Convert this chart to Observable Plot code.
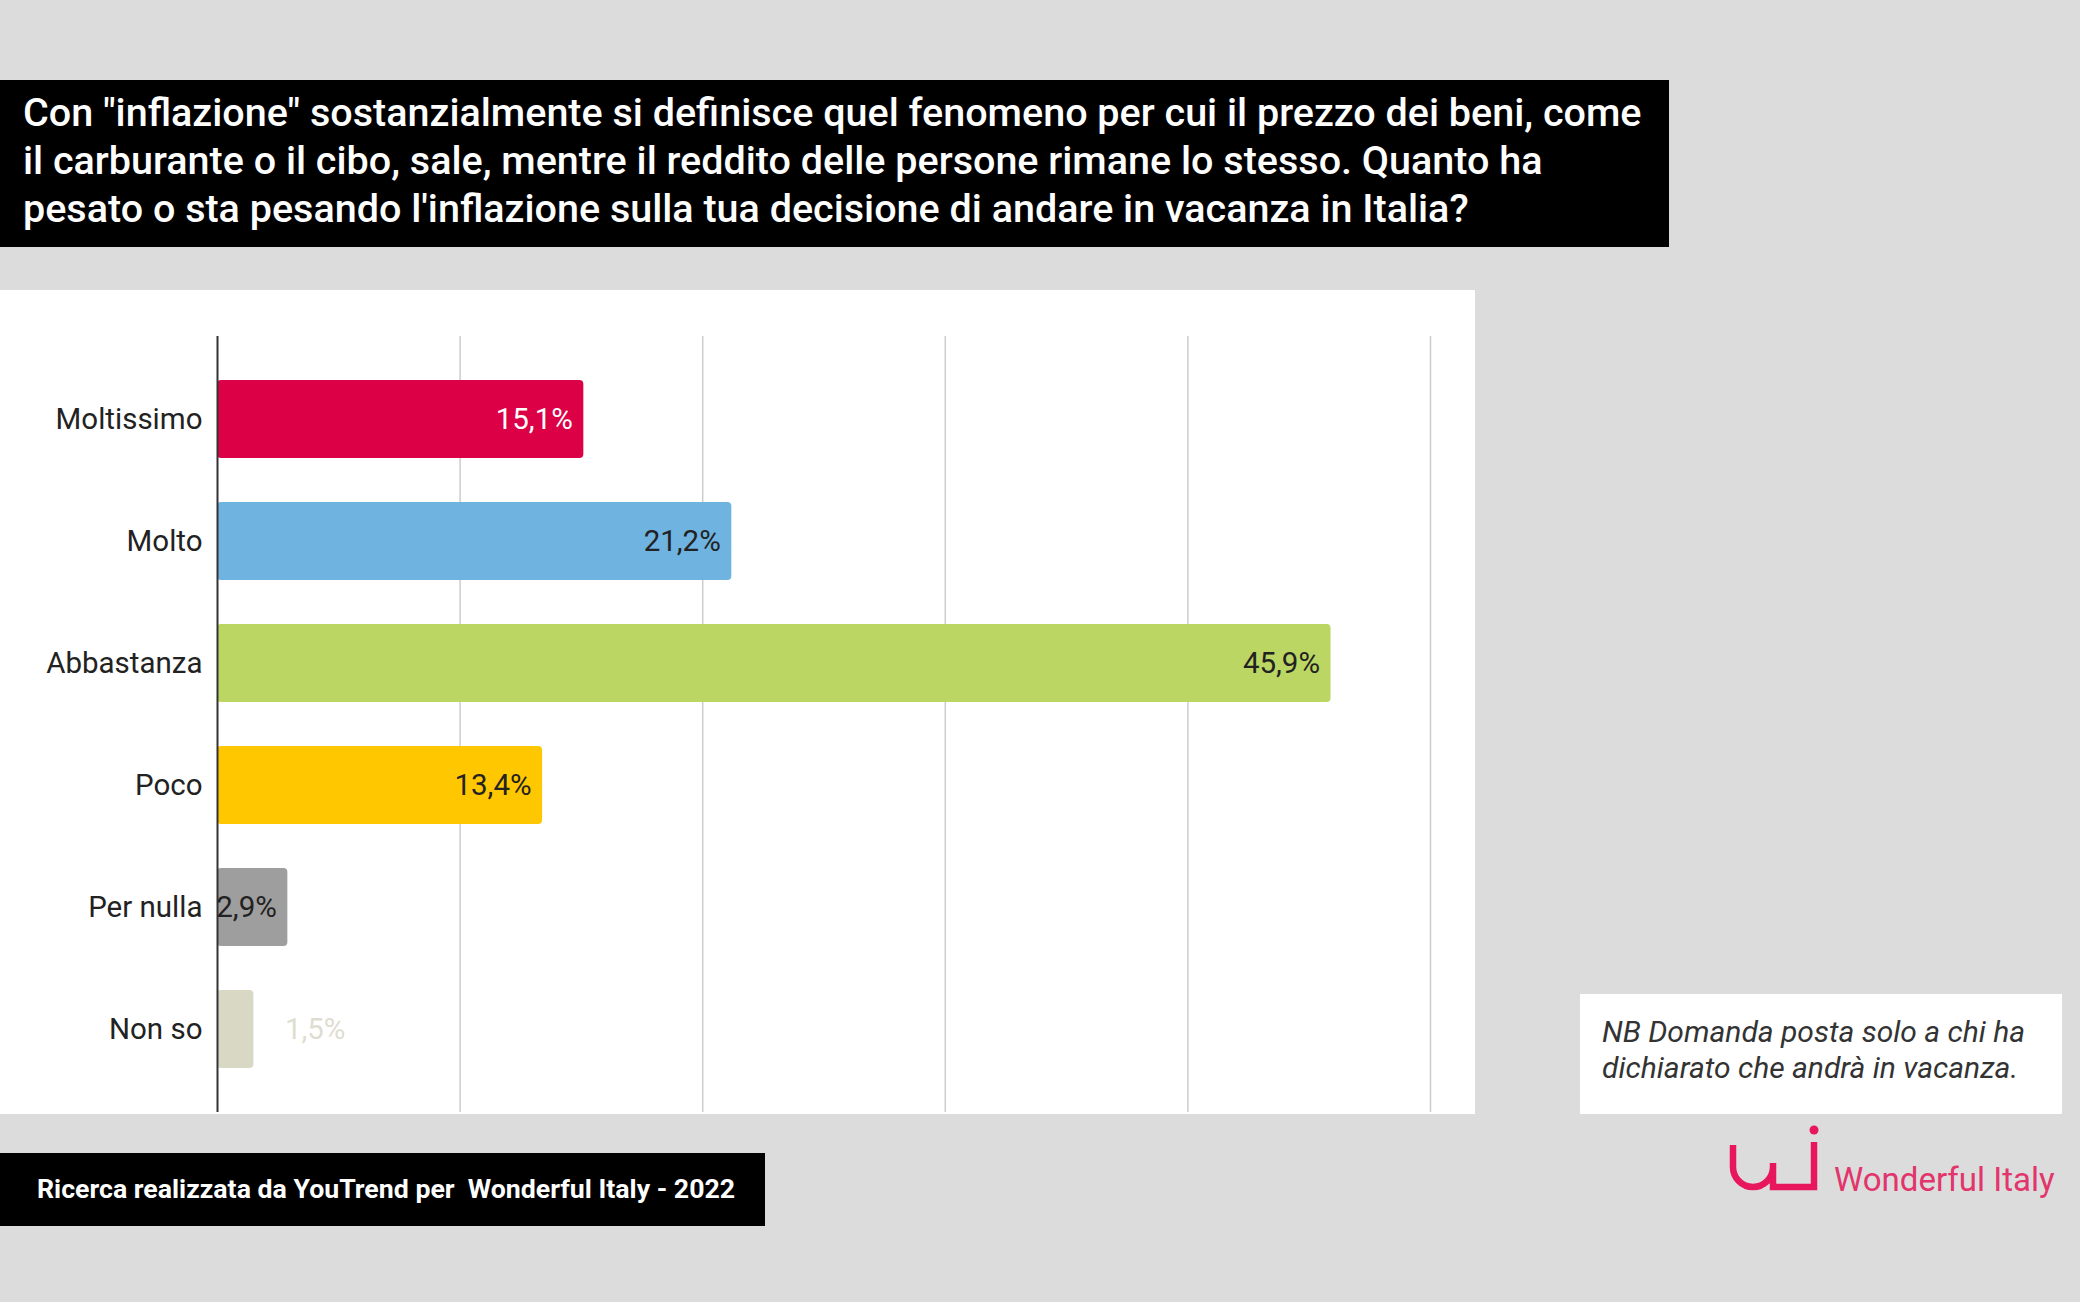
<!DOCTYPE html>
<html>
<head>
<meta charset="utf-8">
<script src="https://cdn.jsdelivr.net/npm/d3@7"></script>
<script src="https://cdn.jsdelivr.net/npm/@observablehq/plot@0.6"></script>
<style>
  html, body { margin: 0; padding: 0; }
  body { width: 2080px; height: 1302px; background: #dcdcdc; position: relative; overflow: hidden; font-family: Roboto, "Noto Sans", sans-serif; }
  #title { position: absolute; left: 0; top: 80px; width: 1669px; height: 167px; background: #000; color: #fff; box-sizing: border-box; padding: 9px 0 0 23px; font-size: 39.5px; line-height: 48px; font-weight: 500; white-space: nowrap; }
  #panel { position: absolute; left: 0; top: 290px; width: 1475px; height: 824px; background: #fff; }
  #caption { position: absolute; left: 0; top: 1153px; width: 765px; height: 73px; background: #000; color: #fff; font-weight: bold; font-size: 26.7px; line-height: 73px; box-sizing: border-box; padding-left: 37px; white-space: pre; }
  #note { position: absolute; left: 1580px; top: 994px; width: 482px; height: 120px; background: #fff; color: #333; font-style: italic; font-size: 30px; line-height: 36px; box-sizing: border-box; padding: 20px 0 0 22px; white-space: nowrap; }
  #logo { position: absolute; left: 1722px; top: 1120px; }
  #brand { position: absolute; left: 1834px; top: 1160px; color: #e2356c; font-size: 33px; white-space: nowrap; }
</style>
</head>
<body>
<div id="title">Con "inflazione" sostanzialmente si definisce quel fenomeno per cui il prezzo dei beni, come<br>il carburante o il cibo, sale, mentre il reddito delle persone rimane lo stesso. Quanto ha<br>pesato o sta pesando l'inflazione sulla tua decisione di andare in vacanza in Italia?</div>
<div id="panel"></div>
<div id="caption">Ricerca realizzata da YouTrend per  Wonderful Italy - 2022</div>
<div id="note">NB Domanda posta solo a chi ha<br>dichiarato che andrà in vacanza.</div>
<svg id="logo" width="110" height="80" viewBox="0 0 110 80">
  <path d="M11 25 V47 A20 20 0 0 0 51 47 V43 M51 43 V67 H92 V22" fill="none" stroke="#e8175d" stroke-width="6.5" stroke-linecap="butt" stroke-linejoin="miter"/>
  <circle cx="92" cy="10" r="4.5" fill="#e8175d"/>
</svg>
<div id="brand">Wonderful Italy</div>
<script>
const categories = ["Moltissimo", "Molto", "Abbastanza", "Poco", "Per nulla", "Non so"];
const values = [15.1, 21.2, 45.9, 13.4, 2.9, 1.5];
const valueLabels = ["15,1%", "21,2%", "45,9%", "13,4%", "2,9%", "1,5%"];
const barColors = ["#dc0047", "#6fb3e1", "#bcd664", "#ffc700", "#9e9e9e", "#d9d8c4"];
const labelColors = ["#ffffff", "#222222", "#222222", "#222222", "#222222", "#dfddd2"];
const xTicks = [0, 10, 20, 30, 40, 50];

const data = categories.map((c, i) => ({
  category: c, value: values[i], label: valueLabels[i], color: barColors[i], labelColor: labelColors[i]
}));
const inside = data.filter(d => d.value >= 2);
const outside = data.filter(d => d.value < 2);

const chart = Plot.plot({
  width: 1475,
  height: 824,
  marginTop: 46,
  marginBottom: 2,
  marginLeft: 217,
  marginRight: 45,
  style: { fontFamily: "Roboto, sans-serif", fontSize: "29.5px", background: "white", color: "#222" },
  x: { domain: [0, 50], axis: null },
  y: { domain: categories, paddingInner: 0.36, paddingOuter: 0.347, label: null },
  marks: [
    Plot.ruleX(xTicks.slice(1), { stroke: "#cccccc", strokeWidth: 1.5 }),
    Plot.barX(data, { x: "value", y: "category", fill: d => d.color, rx: 4 }),
    Plot.ruleX([0], { stroke: "#333", strokeWidth: 2 }),
    Plot.axisY({ tickSize: 0, tickPadding: 15, fontSize: 29.5, fill: "#222", label: null }),
    Plot.text(inside, { x: "value", y: "category", text: "label", textAnchor: "end", dx: -11, fill: d => d.labelColor, fontSize: 29.5 }),
    Plot.text(outside, { x: "value", y: "category", text: "label", textAnchor: "start", dx: 31, fill: d => d.labelColor, fontSize: 29.5 })
  ]
});
document.getElementById("panel").appendChild(chart);
</script>
</body>
</html>
